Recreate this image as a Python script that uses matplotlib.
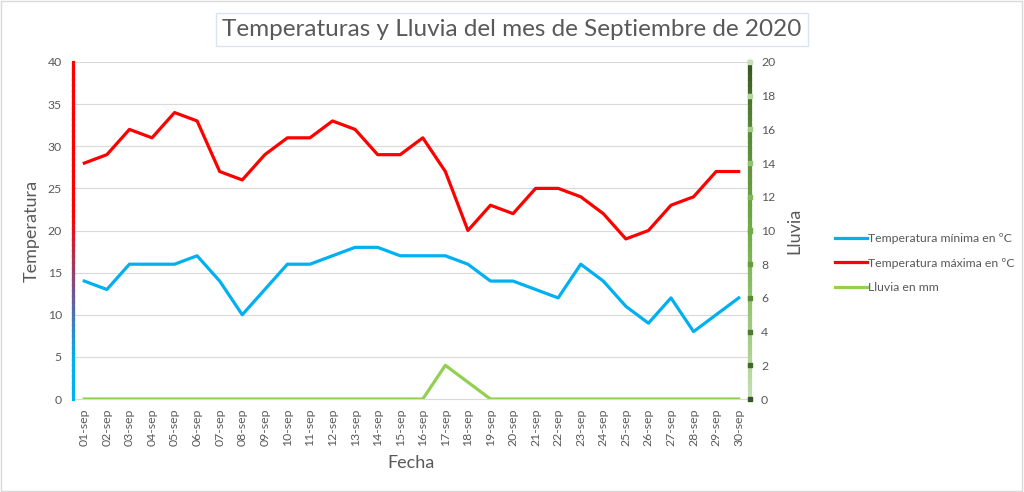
import matplotlib
matplotlib.use("Agg")
import matplotlib.pyplot as plt
import numpy as np
from matplotlib.collections import LineCollection
from matplotlib.colors import LinearSegmentedColormap
from matplotlib.patches import Rectangle

plt.rcParams['font.family'] = ['Lato', 'DejaVu Sans']

# --- data ---
fechas = [f"{d:02d}-sep" for d in range(1, 31)]
temp_min = [14, 13, 16, 16, 16, 17, 14, 10, 13, 16, 16, 17, 18, 18, 17,
            17, 17, 16, 14, 14, 13, 12, 16, 14, 11, 9, 12, 8, 10, 12]
temp_max = [28, 29, 32, 31, 34, 33, 27, 26, 29, 31, 31, 33, 32, 29, 29,
            31, 27, 20, 23, 22, 25, 25, 24, 22, 19, 20, 23, 24, 27, 27]
lluvia = [0, 0, 0, 0, 0, 0, 0, 0, 0, 0, 0, 0, 0, 0, 0,
          0, 2, 1, 0, 0, 0, 0, 0, 0, 0, 0, 0, 0, 0, 0]

grey = "#595959"
c_min = "#00B0F0"
c_max = "#FF0000"
c_rain = "#92D050"

fig = plt.figure(figsize=(10.24, 4.92), dpi=100)
fig.patch.set_facecolor("white")
# light border around the chart area
fig.add_artist(Rectangle((0.001, 0.002), 0.997, 0.996, transform=fig.transFigure,
                         fill=False, edgecolor="#D9D9D9", linewidth=1))

ax = fig.add_axes([0.0713, 0.189, 0.6611, 0.685])
ax2 = ax.twinx()

x = np.arange(len(fechas))
ax.plot(x, temp_min, color=c_min, lw=2.3, label="Temperatura mínima en ºC", zorder=3)
ax.plot(x, temp_max, color=c_max, lw=2.3, label="Temperatura máxima en ºC", zorder=3)
ax2.plot(x, lluvia, color=c_rain, lw=2.3, label="Lluvia en mm", zorder=3)

ax.set_xlim(-0.5, 29.5)
ax.set_ylim(0, 40)
ax.set_yticks(range(0, 41, 5))
ax2.set_ylim(0, 20)
ax2.set_yticks(range(0, 21, 2))

ax.set_xticks(x)
ax.set_xticklabels(fechas, rotation=90)
ax.yaxis.grid(True, color="#D9D9D9", lw=0.8)
ax.set_axisbelow(True)

for a in (ax, ax2):
    for s in a.spines.values():
        s.set_visible(False)
    a.tick_params(length=0, colors=grey, labelsize=8.8)
ax.tick_params(axis='x', pad=7)
ax.tick_params(axis='y', pad=8)
ax2.tick_params(axis='y', pad=8)
ax.spines['bottom'].set_visible(True)
ax.spines['bottom'].set_color("#D9D9D9")

# gradient left axis line (blue -> red)
n = 60
yy = np.linspace(0, 1, n)
pts = np.array([np.zeros(n), yy]).T.reshape(-1, 1, 2)
segs = np.concatenate([pts[:-1], pts[1:]], axis=1)
cmap_l = LinearSegmentedColormap.from_list("l", [(0, c_min), (0.12, c_min), (0.3, "#6A5A9A"),
                                                 (0.55, "#FF0000"), (1, "#FF0000")])
lc = LineCollection(segs, cmap=cmap_l, linewidth=2.3, transform=ax.transAxes,
                    clip_on=False, zorder=4, capstyle='projecting')
lc.set_array(yy[:-1])
ax.add_collection(lc)

# gradient right axis line (light -> dark green)
pts2 = np.array([np.ones(n), yy]).T.reshape(-1, 1, 2)
segs2 = np.concatenate([pts2[:-1], pts2[1:]], axis=1)
cmap_r = LinearSegmentedColormap.from_list("r", [(0, "#C5E0B4"), (0.15, "#A9D18E"),
                                                 (0.5, "#70AD47"), (0.85, "#548235"), (1, "#385723")])
lc2 = LineCollection(segs2, cmap=cmap_r, linewidth=3, transform=ax2.transAxes,
                     clip_on=False, zorder=4, capstyle='projecting')
lc2.set_array(yy[:-1])
ax2.add_collection(lc2)

# small square tick marks on the right axis
tick_vals = np.arange(0, 21, 2)
tick_cols = LinearSegmentedColormap.from_list("t", ["#375623", "#70AD47", "#C5E0B4"])(tick_vals / 20)
ax2.scatter(np.full(len(tick_vals), 29.5), tick_vals, marker='s', s=9, c=tick_cols,
            clip_on=False, zorder=5)

ax.set_ylabel("Temperatura", fontsize=13, color=grey, labelpad=6)
ax2.set_ylabel("Lluvia", fontsize=13, color=grey, labelpad=8)
ax.set_xlabel("Fecha", fontsize=13, color=grey, labelpad=6)

fig.text(0.5, 0.94, "Temperaturas y Lluvia del mes de Septiembre de 2020", ha='center', va='center',
         fontsize=17.5, color=grey,
         bbox=dict(boxstyle="square,pad=0.25", fc="white", ec="#DAE3F3", lw=1))

h1, l1 = ax.get_legend_handles_labels()
h2, l2 = ax2.get_legend_handles_labels()
fig.legend(h1 + h2, l1 + l2, loc='center left', bbox_to_anchor=(0.805, 0.465),
           frameon=False, fontsize=8.8, labelcolor=grey, handlelength=2.6,
           handletextpad=0.1, labelspacing=1.1)

fig.savefig("out.png", dpi=100)
